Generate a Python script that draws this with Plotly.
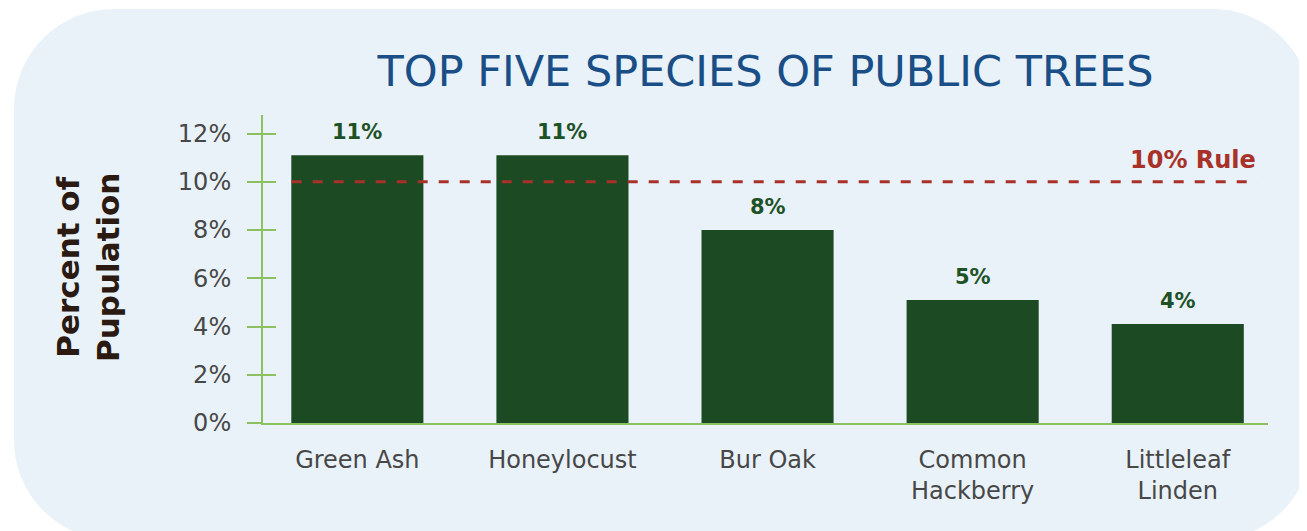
import plotly.graph_objects as go

# ---- data ----
species = ["Green Ash", "Honeylocust", "Bur Oak", "Common<br>Hackberry", "Littleleaf<br>Linden"]
percent = [11.1, 11.1, 8.0, 5.1, 4.1]
bar_labels = ["11%", "11%", "8%", "5%", "4%"]
y_ticks = [0, 2, 4, 6, 8, 10, 12]
y_tick_labels = ["0%", "2%", "4%", "6%", "8%", "10%", "12%"]
rule_value = 10
rule_label = "10% Rule"
title_text = "TOP FIVE SPECIES OF PUBLIC TREES"
y_title = "Percent of<br>Pupulation"

# ---- styling ----
FONT = "DejaVu Sans"
BAR = "#1c4a23"
LABEL_GREEN = "#1f5127"
AXIS_GREEN = "#8cc060"
RULE_RED = "#a8322a"
TICK_GRAY = "#474747"
TITLE_BLUE = "#1a4e86"
PANEL = "#e9f2f8"

OFF = 8  # page body margin offset
W, H = 1307 - OFF, 531 - OFF
ML, MR, MT, MB = 263 - OFF, 39, 115 - OFF, 108
PW, PH = W - ML - MR, H - MT - MB

def px2paper(px, py):
    # px, py are reference-image pixel coordinates
    return (px - OFF - ML) / PW, (H - MB - (py - OFF)) / PH

# rounded background panel (pixel geometry -> paper coords)
x0, y0, x1, y1, r = 14, 9, 1312, 540, 100
k = 0.5523 * r
def P(px, py):
    a, b = px2paper(px, py)
    return f"{a:.5f},{b:.5f}"
path = (
    f"M {P(x0 + r, y0)} L {P(x1 - r, y0)} "
    f"C {P(x1 - r + k, y0)} {P(x1, y0 + r - k)} {P(x1, y0 + r)} "
    f"L {P(x1, y1 - r)} "
    f"C {P(x1, y1 - r + k)} {P(x1 - r + k, y1)} {P(x1 - r, y1)} "
    f"L {P(x0 + r, y1)} "
    f"C {P(x0 + r - k, y1)} {P(x0, y1 - r + k)} {P(x0, y1 - r)} "
    f"L {P(x0, y0 + r)} "
    f"C {P(x0, y0 + r - k)} {P(x0 + r - k, y0)} {P(x0 + r, y0)} Z"
)

xs = list(range(len(species)))

fig = go.Figure()
fig.add_trace(go.Bar(
    x=xs, y=percent, width=0.644,
    marker=dict(color=BAR, line=dict(width=0)),
    hoverinfo="skip", showlegend=False,
))
# invisible trace to activate the overlay axis (inside ticks)
fig.add_trace(go.Scatter(x=[xs[0]], y=[0], yaxis="y2", mode="markers",
                         marker=dict(opacity=0), hoverinfo="skip", showlegend=False))

# value labels above bars
for xi, v, t in zip(xs, percent, bar_labels):
    fig.add_annotation(x=xi, y=v, text=f"<b>{t}</b>", showarrow=False,
                       xanchor="center", yanchor="middle", yshift=23,
                       font=dict(family=FONT, size=21, color=LABEL_GREEN))

# 10% rule line and label
fig.add_shape(type="line", xref="x", yref="y", x0=-0.32, x1=4.39,
              y0=rule_value, y1=rule_value, layer="above",
              line=dict(color=RULE_RED, width=3, dash="10px,11px"))
fig.add_annotation(x=4.39, y=rule_value, xref="x", yref="y", text=f"<b>{rule_label}</b>",
                   showarrow=False, xanchor="right", yanchor="middle", yshift=22,
                   font=dict(family=FONT, size=24, color=RULE_RED))

# y axis title
ax, ay = px2paper(88, 268)
fig.add_annotation(x=ax, y=ay, xref="paper", yref="paper", text=f"<b>{y_title}</b>",
                   textangle=-90, showarrow=False, xanchor="center", yanchor="middle",
                   font=dict(family=FONT, size=31, color="#2b1a12"))

fig.add_shape(type="path", xref="paper", yref="paper", path=path,
              fillcolor=PANEL, line=dict(width=0), layer="below")

yr = [0, PH / 24.12]
fig.update_layout(
    width=W, height=H,
    margin=dict(l=ML, r=MR, t=MT, b=MB, autoexpand=False),
    paper_bgcolor="white", plot_bgcolor="rgba(0,0,0,0)",
    title=dict(text=title_text, x=0.5, xref="paper", y=1 - (70.5 - OFF) / H, yref="container",
               xanchor="center", yanchor="middle",
               font=dict(family=FONT, size=43, color=TITLE_BLUE)),
    xaxis=dict(range=[-0.46, 4.44], tickvals=xs, ticktext=species, ticks="",
               showgrid=False, zeroline=False, showline=True, linecolor=AXIS_GREEN,
               linewidth=2, ticklabelstandoff=14,
               tickfont=dict(family=FONT, size=24, color=TICK_GRAY), fixedrange=True),
    yaxis=dict(range=yr, tickvals=y_ticks, ticktext=y_tick_labels, ticks="outside",
               ticklen=14, tickwidth=2, tickcolor=AXIS_GREEN, showgrid=False,
               zeroline=False, showline=True, linecolor=AXIS_GREEN, linewidth=2,
               ticklabelstandoff=11,
               tickfont=dict(family=FONT, size=24, color=TICK_GRAY), fixedrange=True),
    yaxis2=dict(range=yr, overlaying="y", side="left", anchor="x", tickvals=y_ticks,
                showticklabels=False, ticks="inside", ticklen=13, tickwidth=2,
                tickcolor=AXIS_GREEN, showgrid=False, zeroline=False, showline=False,
                fixedrange=True),
    hovermode=False,
)

fig.write_html("out.html")
